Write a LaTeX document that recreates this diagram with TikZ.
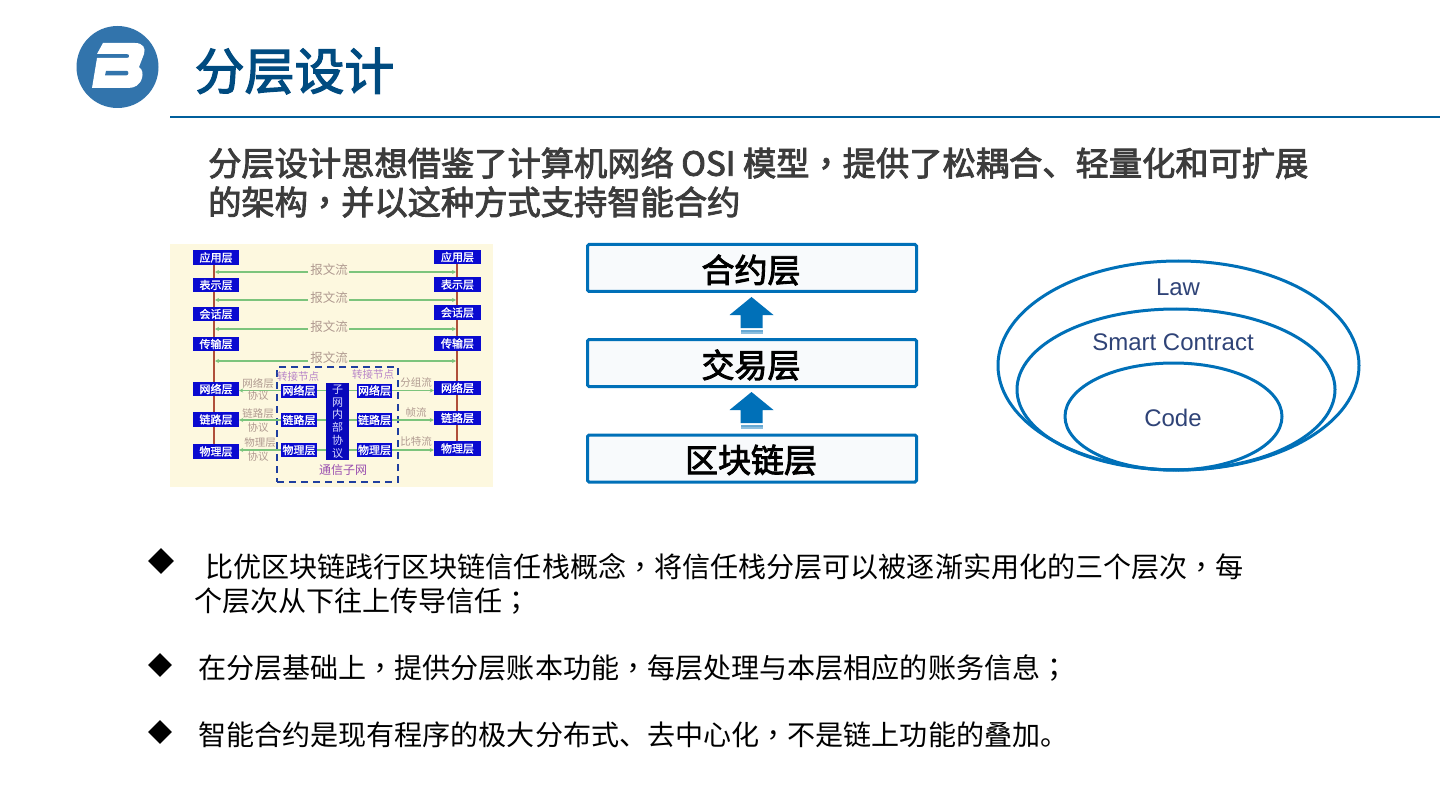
\documentclass[tikz,border=0pt]{standalone}
\usepackage{fontspec}
\usetikzlibrary{shapes.geometric,arrows.meta}
\setmainfont{Liberation Sans}
\newfontfamily\cjk{Noto Sans CJK SC}
\newfontfamily\cjkb[FakeBold=2.6]{Noto Sans CJK SC}
\newfontfamily\cjkos[FakeBold=1.3]{Noto Sans CJK SC}
\newfontfamily\cjktc{Noto Sans CJK TC}
\newfontfamily\cjktcb[FakeBold=2.6]{Noto Sans CJK TC}
\newcommand{\cm}{{\cjktc ，}}
\newcommand{\cmb}{{\cjktcb ，}}
\newcommand{\smc}{{\cjktc ；}}
\definecolor{mainblue}{HTML}{0070B8}
\definecolor{logoblue}{HTML}{3274AC}
\definecolor{titleblue}{HTML}{004B80}
\definecolor{darktext}{HTML}{3C3C3C}
\definecolor{ltext}{HTML}{2F4377}
\definecolor{osibg}{HTML}{FDF8DF}
\definecolor{osiblue}{HTML}{0A0AD0}
\definecolor{osired}{HTML}{B0503A}
\definecolor{osigreen}{HTML}{7CC47C}
\definecolor{osilabel}{HTML}{B09A90}
\definecolor{osidash}{HTML}{1F3F9F}
\definecolor{osipurple}{HTML}{9A4FB0}
\definecolor{boxfill}{HTML}{F8FAFC}
\tikzset{
  txt/.style={inner sep=0pt,anchor=west,text=black},
  title/.style={txt,text=titleblue,font=\cjkb\fontsize{49.9}{50}\selectfont},
  subt/.style={txt,text=darktext,font=\cjkb\fontsize{33.26}{34}\selectfont},
  bullettext/.style={txt,font=\cjk\fontsize{28.07}{30}\selectfont},
  bulletmark/.style={diamond,fill=black,inner sep=0pt,minimum width=#1,minimum height=#1},
  layerbox/.style={draw=mainblue,line width=3pt,rounded corners=1.5pt,fill=boxfill,minimum width=329pt,minimum height=47pt,inner sep=0pt},
  layertext/.style={font=\cjkb\fontsize{33}{34}\selectfont,text=black},
  oval/.style={ellipse,draw=mainblue,line width=3pt,inner sep=0pt},
  ovaltext/.style={inner sep=0pt,text=ltext,font=\fontsize{24}{26}\selectfont},
  osibox/.style={fill=osiblue,text=white,inner sep=0pt,font=\cjkos\fontsize{11}{11}\selectfont,minimum height=14.5pt},
  osiline/.style={draw=osired,line width=1.6pt},
  osiflow/.style={draw=osigreen,line width=1.5pt,-{Stealth[length=4pt,width=4pt]}},
  osilink/.style={draw=osigreen,line width=1.5pt},
  osilab/.style={inner sep=0pt,text=osilabel,font=\cjk\fontsize{10.5}{11}\selectfont},
  osilabw/.style={osilab,font=\cjk\fontsize{12.5}{12}\selectfont},
}
\newcommand{\uparr}[2]{%
  \fill[mainblue] (#1,#2) -- (#1+22,#2+18) -- (#1+11,#2+18) -- (#1+11,#2+31) -- (#1-11,#2+31) -- (#1-11,#2+18) -- (#1-22,#2+18) -- cycle;
  \fill[mainblue!60] (#1-11,#2+32.5) rectangle (#1+11,#2+35);
  \fill[mainblue!45] (#1-11,#2+35) rectangle (#1+11,#2+37);
}
\begin{document}
\begin{tikzpicture}[x=1pt,y=-1pt]
\useasboundingbox (0,0) rectangle (1440,810);
\fill[white] (0,0) rectangle (1440,810);
% logo
\fill[logoblue] (117.5,67) circle (41);
\fill[white] (103,43) -- (135,43) .. controls (143,43) and (146,48) .. (144,54) -- (139,67) .. controls (143,70) and (143,74) .. (142,78) .. controls (140,85) and (135,88) .. (128,88) -- (92,88) -- (97,58) -- (127,58) .. controls (130,58) and (130,54) .. (127,54) -- (97,54) -- cycle;
\fill[logoblue] (106,71) -- (127,71) .. controls (129,71) and (129,75.5) .. (126,75.5) -- (105,75.5) -- cycle;
\node[title] (ttl) at (194.5,71) {分层设计};
\coordinate (rulea) at (170,117); \coordinate (ruleb) at (1440,117);
\draw[mainblue!85!black,line width=2.5pt] (rulea) -- (ruleb);
\node[subt] (s1) at (208,163) {分层设计思想借鉴了计算机网络 OSI 模型\cmb 提供了松耦合、轻量化和可扩展};
\node[subt] (s2) at (208,202) {的架构\cmb 并以这种方式支持智能合约};
% OSI picture
\fill[osibg] (170,244) rectangle (493,487);
\coordinate (lt) at (214,258); \coordinate (lb) at (214,450);
\coordinate (rt) at (457,258); \coordinate (rb) at (457,448);
\draw[osiline] (lt) -- (lb);
\draw[osiline] (rt) -- (rb);
\foreach \n/\t/\y in {a/应用层/257.5,b/表示层/285,c/会话层/314,d/传输层/344,e/网络层/389,f/链路层/419.5,g/物理层/451.5}
  \node[osibox,minimum width=46pt] (L\n) at (216,\y) {\t};
\foreach \n/\t/\y in {a/应用层/257,b/表示层/284.5,c/会话层/312.5,d/传输层/343.5,e/网络层/388,f/链路层/418,g/物理层/448.5}
  \node[osibox,minimum width=47pt] (R\n) at (457.5,\y) {\t};
% flows in upper half
\foreach \i/\y/\ly in {1/272/270,2/300/298,3/329/327,4/361/358}{
  \coordinate (fl\i) at (308,\y); \coordinate (fla\i) at (215,\y);
  \coordinate (fr\i) at (349,\y); \coordinate (fra\i) at (456,\y);
  \draw[osiflow] (fl\i) -- (fla\i);
  \draw[osiflow] (fr\i) -- (fra\i);
  \node[osilabw] (fm\i) at (329,\ly) {报文流};
}
% subnet
\node[draw=osidash,line width=1.7pt,dash pattern=on 7pt off 5pt,minimum width=121pt,minimum height=115pt,inner sep=0pt] (subnet) at (337.5,424.5) {};
\foreach \n/\t/\y in {e/网络层/390.5,f/链路层/420,g/物理层/450}{
  \node[osibox,minimum width=36pt,minimum height=14pt] (A\n) at (299,\y) {\t};
  \node[osibox,minimum width=35pt,minimum height=14pt] (B\n) at (374.5,\y) {\t};
}
\node[fill=osiblue!90!black,minimum width=23pt,minimum height=77pt,inner sep=0pt,text=white!85!blue,align=center,font=\cjk\fontsize{11}{12.8}\selectfont] (mid) at (337.5,421.5) {子\\网\\内\\部\\协\\议};
\foreach \n in {e,f,g}{
  \draw[osilink] (A\n) -- (A\n-|mid.west);
  \draw[osilink] (B\n) -- (B\n-|mid.east);
  \draw[osiflow] (A\n.west) -- (A\n.west-|L\n.east);
  \draw[osiflow] (B\n.east) -- (B\n.east-|R\n.west);
}
\node[osilab,text=osipurple!70] (tj1) at (298,377) {转接节点};
\node[osilab,text=osipurple!70] (tj2) at (373,375) {转接节点};
\node[osilab] (p1) at (258,383) {网络层};
\node[osilab] (p2) at (258,396) {协议};
\node[osilab] (p3) at (258,414) {链路层};
\node[osilab] (p4) at (258,428) {协议};
\node[osilab] (p5) at (260,443) {物理层};
\node[osilab] (p6) at (258,457) {协议};
\node[osilab] (q1) at (416,383) {分组流};
\node[osilab] (q2) at (416,413) {帧流};
\node[osilab] (q3) at (416,442) {比特流};
\node[inner sep=0pt,text=osipurple,font=\cjk\fontsize{12}{12}\selectfont] (tx) at (343,470) {通信子网};
% layers
\node[layerbox] (h1) at (752,268) {}; \node[layertext] (h1t) at (751,270) {合约层};
\node[layerbox] (h2) at (752,363) {}; \node[layertext] (h2t) at (751,365) {交易层};
\node[layerbox] (h3) at (752,458.5) {}; \node[layertext] (h3t) at (751,460) {区块链层};
\uparr{751.5}{297}
\uparr{751.5}{392}
% ellipses
\node[oval,minimum width=361pt,minimum height=209pt] (o1) at (1178.5,365.5) {};
\node[oval,minimum width=318pt,minimum height=161pt] (o2) at (1176,389.5) {};
\node[oval,minimum width=217pt,minimum height=107pt] (o3) at (1173.5,416.5) {};
\node[ovaltext] (ot1) at (1178,287) {Law};
\node[ovaltext] (ot2) at (1173,342) {Smart Contract};
\node[ovaltext] (ot3) at (1173,418) {Code};
% bullets
\node[bulletmark=26pt] (d1) at (161,561) {};
\node[bulletmark=24pt] (d2) at (160,665) {};
\node[bulletmark=24pt] (d3) at (160,732) {};
\node[bullettext] (b1) at (205,567) {比优区块链践行区块链信任栈概念\cm 将信任栈分层可以被逐渐实用化的三个层次\cm 每};
\node[bullettext] (b1b) at (194,601) {个层次从下往上传导信任\smc};
\node[bullettext] (b2) at (198,668) {在分层基础上\cm 提供分层账本功能\cm 每层处理与本层相应的账务信息\smc};
\node[bullettext] (b3) at (198,735) {智能合约是现有程序的极大分布式、去中心化\cm 不是链上功能的叠加。};
\end{tikzpicture}
\end{document}
